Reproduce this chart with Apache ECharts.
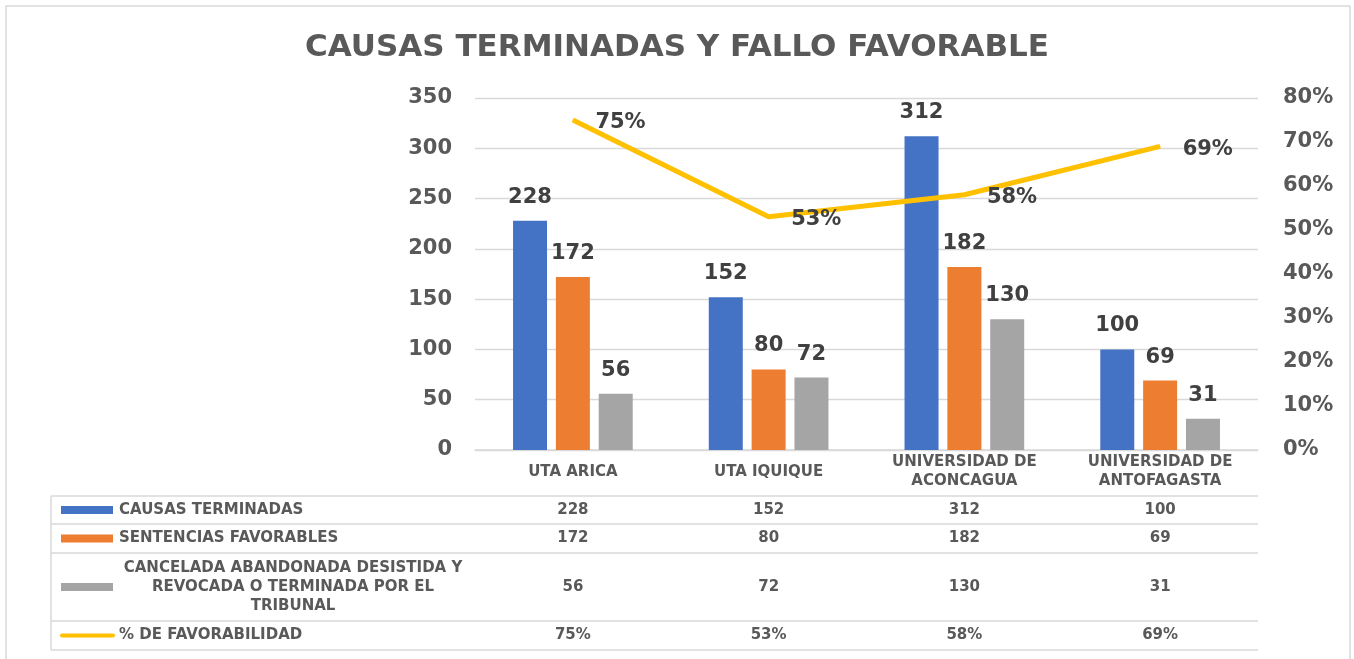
<!DOCTYPE html>
<html>
<head>
<meta charset="utf-8">
<script src="https://cdn.jsdelivr.net/npm/echarts@6/dist/echarts.min.js"></script>
<style>
  html, body { margin: 0; padding: 0; background: #ffffff; }
  #chart { width: 1354px; height: 659px; }
</style>
</head>
<body>
<div id="chart"></div>
<script>
// data
var categories = ['UTA ARICA', 'UTA IQUIQUE', 'UNIVERSIDAD DE\nACONCAGUA', 'UNIVERSIDAD DE\nANTOFAGASTA'];
var causasTerminadas = [228, 152, 312, 100];
var sentenciasFavorables = [172, 80, 182, 69];
var canceladas = [56, 72, 130, 31];
var favorabilidad = [0.75, 0.53, 0.58, 0.69];

var seriesNames = [
  'CAUSAS TERMINADAS',
  'SENTENCIAS FAVORABLES',
  'CANCELADA ABANDONADA DESISTIDA Y REVOCADA O TERMINADA POR EL TRIBUNAL',
  '% DE FAVORABILIDAD'
];
var rowLabels = [
  'CAUSAS TERMINADAS',
  'SENTENCIAS FAVORABLES',
  'CANCELADA ABANDONADA DESISTIDA Y\nREVOCADA O TERMINADA POR EL\nTRIBUNAL',
  '% DE FAVORABILIDAD'
];
var colors = ['#4472C4', '#ED7D31', '#A5A5A5', '#FFC000'];

var FONT = 'DejaVu Sans';
var pct = function (v) { return Math.round(v * 100) + '%'; };

var chartDom = document.getElementById('chart');
var myChart = echarts.init(chartDom);
var option;

var barLabel = {
  show: true,
  position: 'top',
  distance: 13,
  color: '#404040',
  fontFamily: FONT,
  fontWeight: 'bold',
  fontSize: 21
};

option = {
  backgroundColor: '#ffffff',
  animation: false,
  title: {
    text: 'CAUSAS TERMINADAS Y FALLO FAVORABLE',
    left: 'center',
    top: 27,
    textStyle: {
      color: '#595959',
      fontFamily: FONT,
      fontWeight: 'bold',
      fontSize: 31
    }
  },
  grid: {
    left: 475,
    right: 96,
    top: 98,
    bottom: 209
  },
  xAxis: {
    type: 'category',
    data: categories,
    axisLine: { lineStyle: { color: '#d9d9d9', width: 1.5 } },
    axisTick: { length: 200, lineStyle: { color: '#d9d9d9', width: 1.5 } },
    axisLabel: {
      margin: 22,
      verticalAlign: 'middle',
      lineHeight: 19,
      color: '#595959',
      fontFamily: FONT,
      fontWeight: 'bold',
      fontSize: 15
    }
  },
  yAxis: [
    {
      type: 'value',
      min: 0,
      max: 350,
      interval: 50,
      axisLabel: {
        margin: 23,
        color: '#595959',
        fontFamily: FONT,
        fontWeight: 'bold',
        fontSize: 21
      },
      splitLine: { lineStyle: { color: '#d9d9d9', width: 1.3 } }
    },
    {
      type: 'value',
      min: 0,
      max: 0.8,
      interval: 0.1,
      axisLabel: {
        margin: 25,
        formatter: pct,
        color: '#595959',
        fontFamily: FONT,
        fontWeight: 'bold',
        fontSize: 21
      },
      splitLine: { show: false }
    }
  ],
  series: [
    {
      name: seriesNames[0],
      type: 'bar',
      data: causasTerminadas,
      barWidth: 34,
      barGap: '26%',
      itemStyle: { color: colors[0] },
      label: barLabel
    },
    {
      name: seriesNames[1],
      type: 'bar',
      data: sentenciasFavorables,
      barWidth: 34,
      barGap: '26%',
      itemStyle: { color: colors[1] },
      label: barLabel
    },
    {
      name: seriesNames[2],
      type: 'bar',
      data: canceladas,
      barWidth: 34,
      barGap: '26%',
      itemStyle: { color: colors[2] },
      label: barLabel
    },
    {
      name: seriesNames[3],
      type: 'line',
      yAxisIndex: 1,
      data: favorabilidad,
      symbol: 'circle',
      symbolSize: 1,
      showSymbol: true,
      lineStyle: { color: colors[3], width: 5 },
      itemStyle: { color: colors[3] },
      label: {
        show: true,
        position: 'right',
        distance: 22,
        offset: [0, 3],
        formatter: function (p) { return pct(p.value); },
        color: '#404040',
        fontFamily: FONT,
        fontWeight: 'bold',
        fontSize: 21
      }
    }
  ]
};
myChart.setOption(option);

// data table under the plot, columns follow the category axis
var tableData = [causasTerminadas, sentenciasFavorables, canceladas, favorabilidad];
var rowHeights = [28, 29, 68, 29];
var tableTop = 496;
var tableLeft = 51;
var gridRect = myChart.getModel().getComponent('grid').coordinateSystem.getRect();
var tableRight = gridRect.x + gridRect.width;
var lineColor = '#d9d9d9';
var textStyle = { fill: '#595959', fontFamily: FONT, fontWeight: 'bold', fontSize: 15 };

var graphics = [];
// outer frame
graphics.push({
  type: 'rect',
  shape: { x: 6, y: 6, width: 1344, height: 700 },
  style: { fill: null, stroke: lineColor, lineWidth: 1.5 },
  silent: true
});

var y = tableTop;
graphics.push({ type: 'line', shape: { x1: tableLeft, y1: y, x2: tableRight, y2: y }, style: { stroke: lineColor, lineWidth: 1.5 } });
rowHeights.forEach(function (h, r) {
  var cy = y + h / 2;
  // legend key
  if (r < 3) {
    graphics.push({ type: 'rect', shape: { x: 61, y: cy - 4, width: 52, height: 8 }, style: { fill: colors[r] } });
  } else {
    graphics.push({ type: 'line', shape: { x1: 62, y1: cy, x2: 113, y2: cy }, style: { stroke: colors[r], lineWidth: 4, lineCap: 'round' } });
  }
  // row label
  var multi = rowLabels[r].indexOf('\n') >= 0;
  graphics.push({
    type: 'text',
    x: multi ? 293 : 119,
    y: cy,
    style: Object.assign({
      text: rowLabels[r],
      align: multi ? 'center' : 'left',
      verticalAlign: 'middle',
      lineHeight: 19
    }, textStyle)
  });
  // values
  tableData[r].forEach(function (v, c) {
    var cx = myChart.convertToPixel({ xAxisIndex: 0 }, c);
    graphics.push({
      type: 'text',
      x: cx,
      y: cy,
      style: Object.assign({
        text: r === 3 ? pct(v) : String(v),
        align: 'center',
        verticalAlign: 'middle'
      }, textStyle)
    });
  });
  y += h;
  graphics.push({ type: 'line', shape: { x1: tableLeft, y1: y, x2: tableRight, y2: y }, style: { stroke: lineColor, lineWidth: 1.5 } });
});
graphics.push({ type: 'line', shape: { x1: tableLeft, y1: tableTop, x2: tableLeft, y2: y }, style: { stroke: lineColor, lineWidth: 1.5 } });

myChart.setOption({ graphic: graphics });
</script>
</body>
</html>
